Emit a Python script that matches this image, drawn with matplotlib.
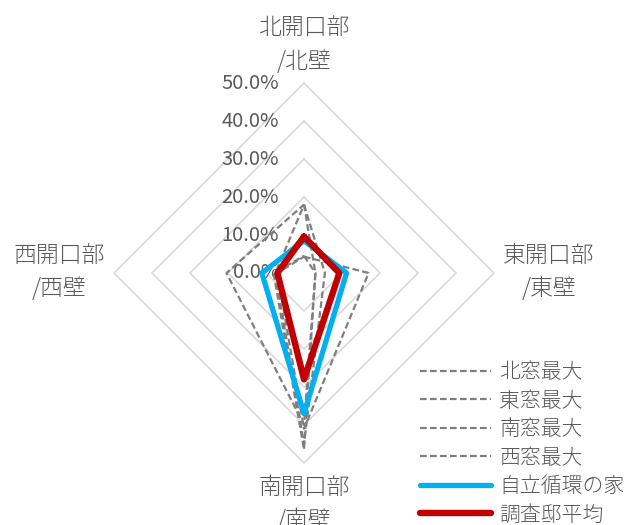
import numpy as np
import matplotlib.pyplot as plt

plt.rcParams['font.family'] = ['Noto Sans CJK JP', 'DejaVu Sans']

# axes run clockwise from the top: north, east, south, west (values in %)
axis_labels = ['北開口部\n/北壁', '東開口部\n/東壁', '南開口部\n/南壁', '西開口部\n/西壁']
ring_levels = [0, 10, 20, 30, 40, 50]

north_max = [18.0, 5.5, 45.0, 7.5]
east_max = [4.3, 17.0, 41.0, 7.0]
south_max = [4.5, 3.0, 46.5, 8.0]
west_max = [18.0, 3.0, 40.0, 20.4]
jiritsu = [8.5, 11.2, 37.0, 11.1]
survey_avg = [9.6, 9.3, 28.0, 7.0]

dash = dict(color='#7f7f7f', lw=1.6, dashes=(3, 1.5))
series = [
    ('北窓最大', north_max, dash),
    ('東窓最大', east_max, dash),
    ('南窓最大', south_max, dash),
    ('西窓最大', west_max, dash),
    ('自立循環の家', jiritsu, dict(color='#00b0f0', lw=3.8, solid_capstyle='round', solid_joinstyle='round')),
    ('調査邸平均', survey_avg, dict(color='#c00000', lw=4.6, solid_capstyle='round', solid_joinstyle='round')),
]

angles = np.array([90, 0, -90, 180]) * np.pi / 180


def to_xy(vals):
    v = np.append(vals, vals[0])
    a = np.append(angles, angles[0])
    return v * np.cos(a), v * np.sin(a)


fig = plt.figure(figsize=(6.26, 5.25), dpi=100)
ax = fig.add_axes([0, 0, 1, 1])
# 3.8 px per percent, centre at (304, 273) px
ax.set_xlim(-304 / 3.8, (626 - 304) / 3.8)
ax.set_ylim(-(525 - 273) / 3.8, 273 / 3.8)
ax.axis('off')

for lv in ring_levels[1:]:
    x, y = to_xy([lv] * 4)
    ax.plot(x, y, color='#d9d9d9', lw=1.2, zorder=1)

gray = '#595959'
for lv in ring_levels:
    ax.text(-6.6, lv, f'{lv:.1f}%', ha='right', va='center', fontsize=14.5,
            color=gray, zorder=1)

lab = dict(ha='center', va='center', fontsize=16.5, color=gray, linespacing=1.45,
           fontweight='light')
ax.text(0, 60.2, axis_labels[0], **lab)
ax.text(64.5, 0.3, axis_labels[1], **lab)
ax.text(0, -60.8, axis_labels[2], **lab)
ax.text(-64.5, 0.3, axis_labels[3], **lab)

for name, vals, style in series:
    x, y = to_xy(vals)
    ax.plot(x, y, label=name, zorder=3, **style)

leg = ax.legend(loc='upper left', bbox_to_anchor=(0.658, 0.328), frameon=False,
                fontsize=15, labelspacing=0.31, handlelength=3.4, handletextpad=0.4,
                borderaxespad=0)
for t in leg.get_texts():
    t.set_color(gray)
    t.set_fontweight('light')

fig.savefig('out.png', dpi=100)
